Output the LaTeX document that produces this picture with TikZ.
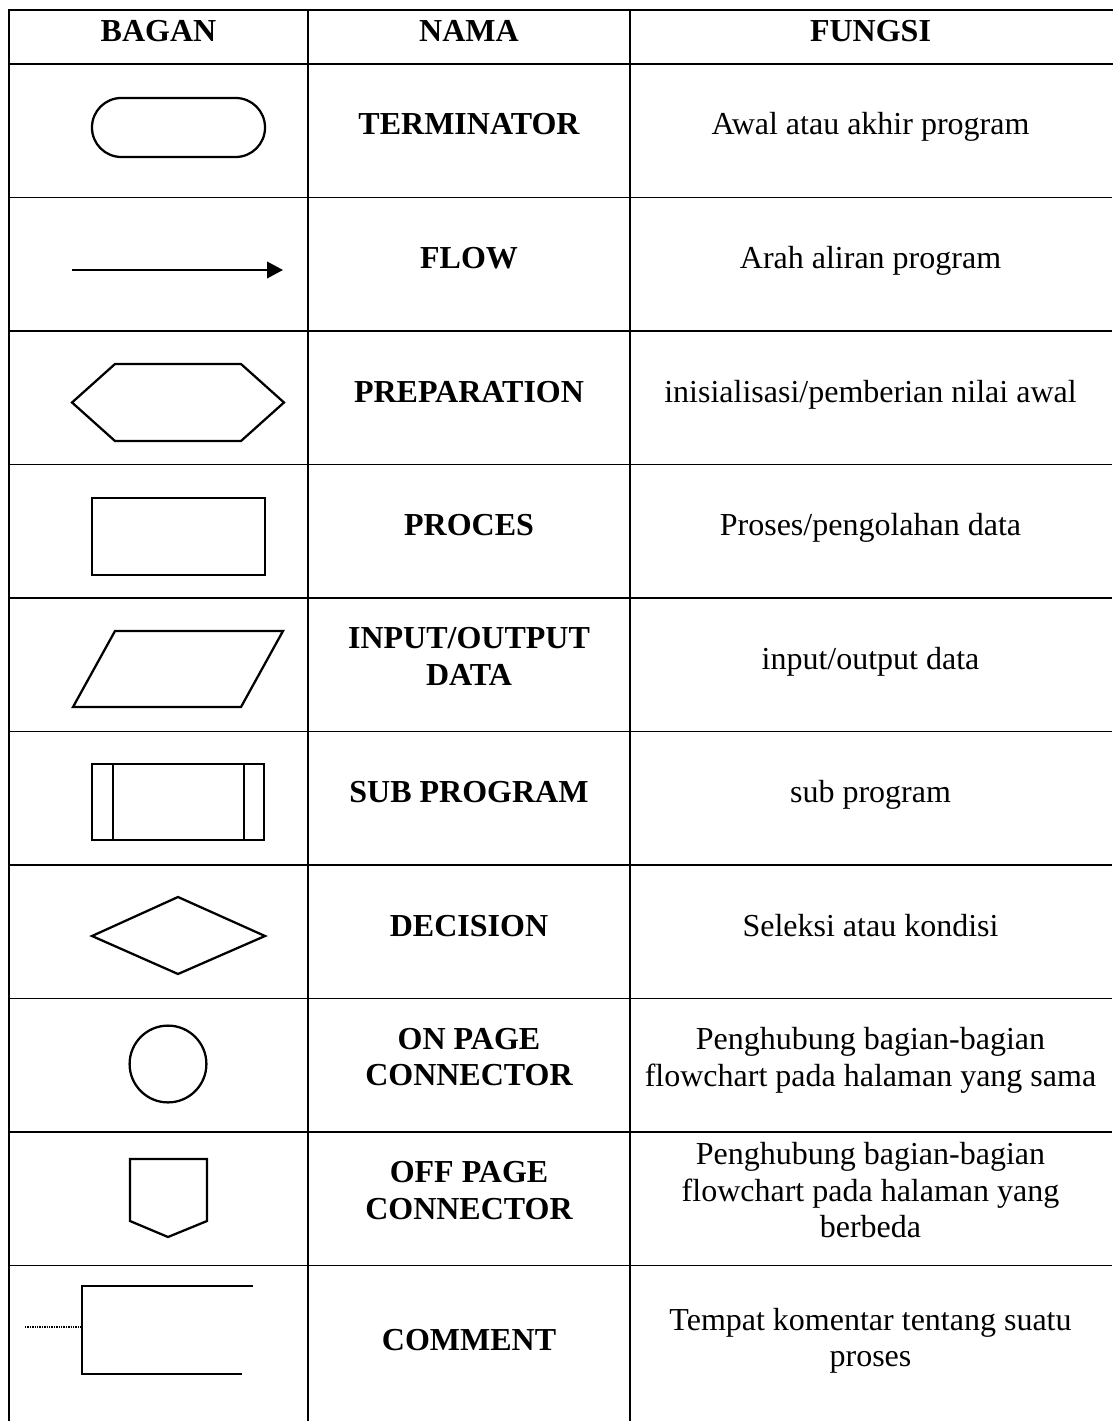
\documentclass[tikz,border=0pt]{standalone}
\usepackage{fontspec}
\setmainfont{Liberation Serif}
\usetikzlibrary{arrows.meta}

\begin{document}
\begin{tikzpicture}[x=0.375pt,y=-0.375pt,
    thick rule/.style={line width=1.1pt},
    thin rule/.style={line width=0.6pt},
    symbol/.style={line width=0.85pt, line join=miter},
    cell/.style={align=center, inner sep=0pt, font=\fontsize{12}{13.7}\selectfont,
      execute at begin node=\strut, execute at end node=\strut},
    head/.style={cell, font=\fontsize{12}{13.7}\selectfont\bfseries}]

  \useasboundingbox (0,0) rectangle (1112,1421);

  % table
  \draw[thick rule] (9,10) rectangle (1114,64);
  \draw[thick rule] (308,10) -- (308,64);
  \draw[thick rule] (630,10) -- (630,64);
  \foreach \x in {9,308,630}
    \draw[thin rule] (\x,64) -- (\x,1421);
  \foreach \k in {1,...,9}
    \draw[thin rule] (9,64+133.5*\k) -- (1112,64+133.5*\k);

  \node[head] (bagan) at (158.5,34) {BAGAN};
  \node[head] (nama) at (469,34) {NAMA};
  \node[head] (fungsi) at (870.5,34) {FUNGSI};

  % symbols
  \draw[symbol, rounded corners=11pt] (92,98) rectangle (265,157);

  \coordinate (flow_start) at (72,270);
  \coordinate (flow_end) at (283,270);
  \draw[symbol, -{Triangle[length=6pt,width=6.2pt]}] (flow_start) -- (flow_end);

  \draw[symbol] (72,402.5) -- (115,364) -- (241,364) -- (284,402.5)
    -- (241,441) -- (115,441) -- cycle;

  \draw[symbol] (92,498) rectangle (265,575);

  \draw[symbol] (115,631) -- (283,631) -- (241,707) -- (73,707) -- cycle;

  \draw[symbol] (92,764) rectangle (264,840);
  \draw[symbol] (113,764) -- (113,840);
  \draw[symbol] (244,764) -- (244,840);

  \draw[symbol] (92,936) -- (178,897) -- (265,936) -- (178,974) -- cycle;

  \draw[symbol] (168,1064) circle[radius=14.4pt];

  \draw[symbol] (130,1159) -- (207,1159) -- (207,1221) -- (168,1237)
    -- (130,1221) -- cycle;

  \draw[symbol] (253,1286) -- (82,1286) -- (82,1374) -- (242,1374);
  \draw[line width=0.8pt, dash pattern=on 0.5pt off 0.4pt] (25,1327) -- (82,1327);

  % names
  \node[head] (nama1) at (469,127.7) {TERMINATOR};
  \node[head] (nama2) at (469,261.2) {FLOW};
  \node[head] (nama3) at (469,394.7) {PREPARATION};
  \node[head] (nama4) at (469,528.2) {PROCES};
  \node[head] (nama5) at (469,661.7) {INPUT/OUTPUT\\DATA};
  \node[head] (nama6) at (469,795.2) {SUB PROGRAM};
  \node[head] (nama7) at (469,928.7) {DECISION};
  \node[head] (nama8) at (469,1062.2) {ON PAGE\\CONNECTOR};
  \node[head] (nama9) at (469,1195.7) {OFF PAGE\\CONNECTOR};
  \node[head] (nama10) at (469,1343) {COMMENT};

  % functions
  \node[cell] (fungsi1) at (870.5,127.7) {Awal atau akhir program};
  \node[cell] (fungsi2) at (870.5,261.2) {Arah aliran program};
  \node[cell] (fungsi3) at (870.5,394.7) {inisialisasi/pemberian nilai awal};
  \node[cell] (fungsi4) at (870.5,528.2) {Proses/pengolahan data};
  \node[cell] (fungsi5) at (870.5,661.7) {input/output data};
  \node[cell] (fungsi6) at (870.5,795.2) {sub program};
  \node[cell] (fungsi7) at (870.5,928.7) {Seleksi atau kondisi};
  \node[cell] (fungsi8) at (870.5,1062.2) {Penghubung bagian-bagian\\flowchart pada halaman yang sama};
  \node[cell] (fungsi9) at (870.5,1195.7) {Penghubung bagian-bagian\\flowchart pada halaman yang\\berbeda};
  \node[cell] (fungsi10) at (870.5,1343) {Tempat komentar tentang suatu\\proses};
\end{tikzpicture}
\end{document}
